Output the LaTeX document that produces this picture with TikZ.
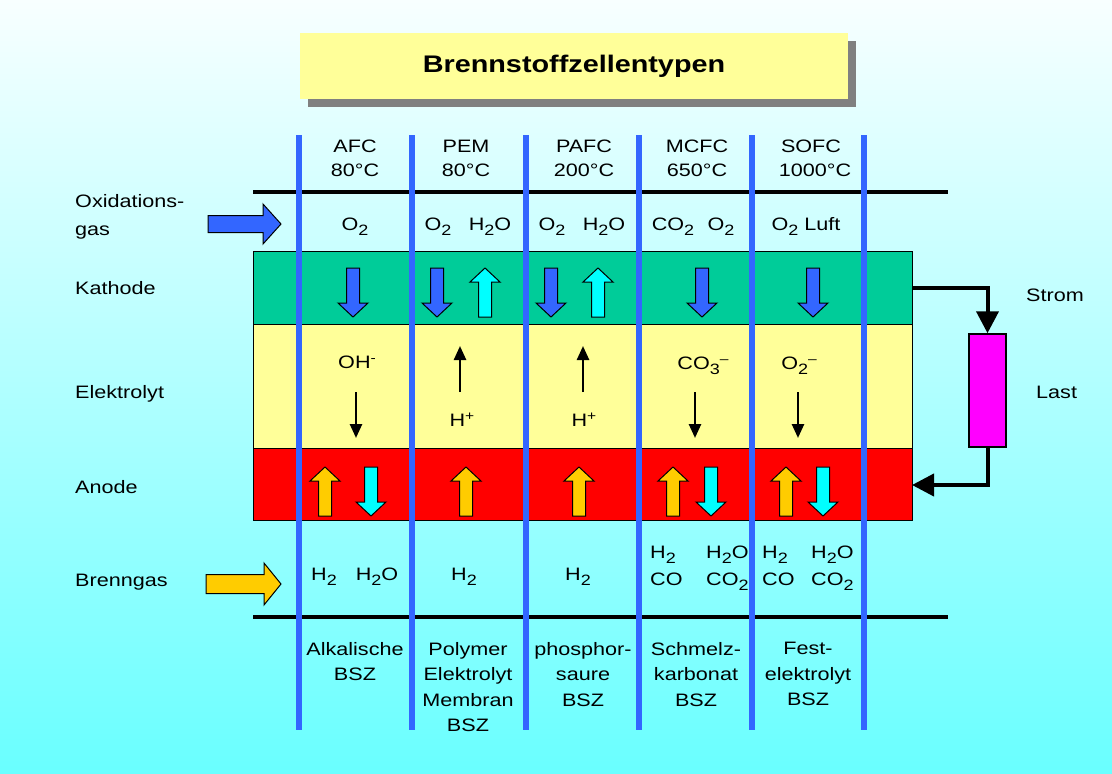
\documentclass[tikz,border=0pt]{standalone}
\usepackage{fontspec}
\setmainfont[FakeStretch=1.2]{Liberation Sans}
\usetikzlibrary{arrows.meta}
\definecolor{bgtop}{RGB}{248,255,255}
\definecolor{bgbot}{RGB}{105,255,255}
\definecolor{colblue}{RGB}{51,102,255}
\definecolor{kath}{RGB}{0,204,153}
\definecolor{elyt}{RGB}{255,255,153}
\definecolor{anod}{RGB}{255,0,0}
\definecolor{gasyel}{RGB}{255,204,0}
\definecolor{cyanarr}{RGB}{0,255,255}
\definecolor{lastmag}{RGB}{255,0,255}
\definecolor{titlebg}{RGB}{255,255,153}
\definecolor{shadowgray}{RGB}{128,128,128}
\newcommand\chsub[1]{\raisebox{-5pt}{\fontsize{15}{15}\selectfont #1}}
\newcommand\chsup[1]{\raisebox{6pt}{\fontsize{13}{13}\selectfont #1}}
% vertical block arrow: x, tail y, head-base y, tip y, colour
\newcommand\varrow[5]{%
  \filldraw[blockarr, fill=#5] ({#1-6.5},#2) -- ({#1+6.5},#2) -- ({#1+6.5},#3) -- ({#1+15},#3)
    -- (#1,#4) -- ({#1-15},#3) -- ({#1-6.5},#3) -- cycle;}
% horizontal block arrow: y, tail x, head-base x, tip x, body half, head half, colour
\newcommand\harrow[7]{%
  \filldraw[blockarr, fill=#7] (#2,{#1-#5}) -- (#3,{#1-#5}) -- (#3,{#1-#6}) -- (#4,#1)
    -- (#3,{#1+#6}) -- (#3,{#1+#5}) -- (#2,{#1+#5}) -- cycle;}
\tikzset{
  blockarr/.style={draw=black, line width=1pt},
  txt/.style={anchor=base, inner sep=0pt, font=\fontsize{18}{21}\selectfont},
  ltxt/.style={anchor=base west, inner sep=0pt, font=\fontsize{18}{21}\selectfont},
  btxt/.style={anchor=north, inner sep=0pt, align=center, font=\fontsize{18}{25.5}\selectfont},
  layer/.style={draw=black, line width=1pt},
  colline/.style={draw=colblue, line width=6pt},
  hline/.style={draw=black, line width=4pt},
  ionarr/.style={draw=black, line width=2.5pt, -{Triangle[length=14pt,width=12pt]}},
  circuit/.style={draw=black, line width=4pt, -{Triangle[length=22pt,width=22pt]}},
}
\begin{document}
\begin{tikzpicture}[x=1pt,y=-1pt]
\useasboundingbox (0,0) rectangle (1112,774);
\shade[top color=bgtop, bottom color=bgbot] (0,0) rectangle (1112,774);
% title
\fill[shadowgray] (308,41) rectangle (856,107);
\node[fill=titlebg, minimum width=548pt, minimum height=66pt, inner sep=0pt,
      font=\fontsize{24}{28}\selectfont\bfseries] (title) at (574,66) {Brennstoffzellentypen};
% layers
\node[layer, fill=kath, minimum width=659pt, minimum height=73pt, inner sep=0pt] (kathode) at (582.5,287.5) {};
\node[layer, fill=elyt, minimum width=659pt, minimum height=124pt, inner sep=0pt] (elektrolyt) at (582.5,386) {};
\node[layer, fill=anod, minimum width=659pt, minimum height=72pt, inner sep=0pt] (anode) at (582.5,484.5) {};
% horizontal black lines
\coordinate (t1) at (253,192); \coordinate (t2) at (948,192);
\coordinate (b1) at (253,617); \coordinate (b2) at (948,617);
\draw[hline] (t1) -- (t2);
\draw[hline] (b1) -- (b2);
% vertical column lines
\foreach \i/\x in {1/299,2/412,3/526,4/639,5/752,6/864}{
  \coordinate (c\i t) at (\x,135); \coordinate (c\i b) at (\x,730);
  \draw[colline] (c\i t) -- (c\i b);
}
% headers
\node[txt] (h1a) at (355,152) {AFC};   \node[txt] (h1b) at (355,176) {80°C};
\node[txt] (h2a) at (466,152) {PEM};   \node[txt] (h2b) at (466,176) {80°C};
\node[txt] (h3a) at (584,152) {PAFC};  \node[txt] (h3b) at (584,176) {200°C};
\node[txt] (h4a) at (697,152) {MCFC};  \node[txt] (h4b) at (697,176) {650°C};
\node[txt] (h5a) at (811,152) {SOFC};  \node[txt] (h5b) at (815,176) {1000°C};
% left labels
\node[ltxt] (lox1) at (75,207) {Oxidations-};
\node[ltxt] (lox2) at (75,235) {gas};
\node[ltxt] (lkat) at (75,294) {Kathode};
\node[ltxt] (lel) at (75,398) {Elektrolyt};
\node[ltxt] (lan) at (75,493) {Anode};
\node[ltxt] (lbr) at (75,586) {Brenngas};
% gas arrows
\harrow{224}{208}{263}{281}{8.5}{20}{colblue}
\harrow{584}{206}{264}{281}{9.5}{21}{gasyel}
% oxidation gas row
\node[txt] (o1) at (355,230) {O\chsub{2}};
\node[txt] (o2a) at (438,230) {O\chsub{2}};
\node[txt] (o2b) at (490,230) {H\chsub{2}O};
\node[txt] (o3a) at (552,230) {O\chsub{2}};
\node[txt] (o3b) at (604,230) {H\chsub{2}O};
\node[txt] (o4a) at (673,230) {CO\chsub{2}};
\node[txt] (o4b) at (721,230) {O\chsub{2}};
\node[txt] (o5) at (806,230) {O\chsub{2} Luft};
% kathode arrows
\varrow{353}{268}{303}{317}{colblue}
\varrow{437}{268}{303}{317}{colblue}
\varrow{485}{317}{282}{268}{cyanarr}
\varrow{551}{268}{303}{317}{colblue}
\varrow{598}{317}{282}{268}{cyanarr}
\varrow{702}{268}{303}{317}{colblue}
\varrow{813}{268}{303}{317}{colblue}
% electrolyte ions
\node[txt] (i1) at (357,368) {OH\chsup{-}};
\coordinate (e1s) at (356,392); \coordinate (e1e) at (356,438);
\draw[ionarr] (e1s) -- (e1e);
\coordinate (e2s) at (460,392); \coordinate (e2e) at (460,346);
\draw[ionarr] (e2s) -- (e2e);
\node[txt] (i2) at (462,426) {H\chsup{+}};
\coordinate (e3s) at (583,392); \coordinate (e3e) at (583,346);
\draw[ionarr] (e3s) -- (e3e);
\node[txt] (i3) at (584,426) {H\chsup{+}};
\node[txt] (i4) at (703,369) {CO\chsub{3}\chsup{–}};
\coordinate (e4s) at (695,392); \coordinate (e4e) at (695,438);
\draw[ionarr] (e4s) -- (e4e);
\node[txt] (i5) at (799,369) {O\chsub{2}\chsup{–}};
\coordinate (e5s) at (798,392); \coordinate (e5e) at (798,438);
\draw[ionarr] (e5s) -- (e5e);
% anode arrows
\varrow{325}{516}{481}{467}{gasyel}
\varrow{371}{467}{502}{516}{cyanarr}
\varrow{466}{516}{481}{467}{gasyel}
\varrow{579}{516}{481}{467}{gasyel}
\varrow{673}{516}{481}{467}{gasyel}
\varrow{711}{467}{502}{516}{cyanarr}
\varrow{786}{516}{481}{467}{gasyel}
\varrow{823}{467}{502}{516}{cyanarr}
% fuel gas row
\node[txt] (f1a) at (324,580) {H\chsub{2}};
\node[txt] (f1b) at (377,580) {H\chsub{2}O};
\node[txt] (f2) at (464,580) {H\chsub{2}};
\node[txt] (f3) at (578,580) {H\chsub{2}};
\node[ltxt] (f4a) at (650,558) {H\chsub{2}};
\node[ltxt] (f4b) at (650,585) {CO};
\node[ltxt] (f4c) at (706,558) {H\chsub{2}O};
\node[ltxt] (f4d) at (706,585) {CO\chsub{2}};
\node[ltxt] (f5a) at (762,558) {H\chsub{2}};
\node[ltxt] (f5b) at (762,585) {CO};
\node[ltxt] (f5c) at (811,558) {H\chsub{2}O};
\node[ltxt] (f5d) at (811,585) {CO\chsub{2}};
% bottom names
\node[btxt] (n1) at (355,642) {Alkalische\\BSZ};
\node[btxt] (n2) at (468,642) {Polymer\\Elektrolyt\\Membran\\BSZ};
\node[btxt] (n3) at (583,642) {phosphor-\\saure\\BSZ};
\node[btxt] (n4) at (696,642) {Schmelz-\\karbonat\\BSZ};
\node[btxt] (n5) at (808,642) {Fest-\\elektrolyt\\BSZ};
% circuit
\node[draw=black, line width=1.5pt, fill=lastmag, minimum width=37pt, minimum height=113pt, inner sep=0pt] (last) at (987.5,390.5) {};
\coordinate (kout) at (912,288);
\coordinate (aout) at (912,485);
\draw[circuit] (kout) -| (last.north);
\draw[circuit] (last.south) |- (aout);
\node[ltxt] (strom) at (1026,301) {Strom};
\node[ltxt] (lastlbl) at (1036,398) {Last};
\end{tikzpicture}
\end{document}
